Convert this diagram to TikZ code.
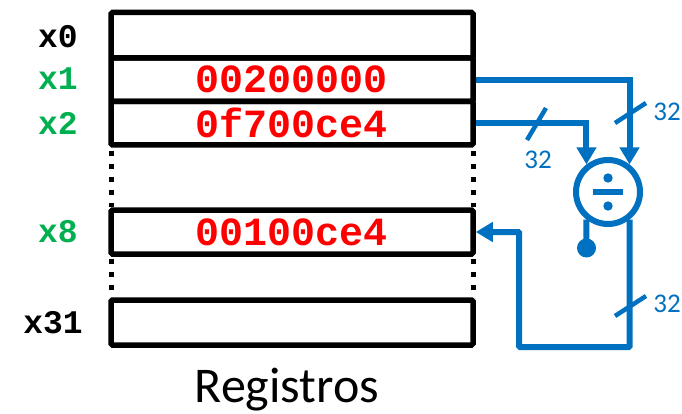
\documentclass[tikz,border=0pt]{standalone}
\usepackage{fontspec}
\setmainfont{Carlito}
\newfontfamily\regmono{Liberation Mono}
\usetikzlibrary{arrows.meta,shapes.geometric}
\definecolor{busblue}{HTML}{0070C0}
\definecolor{regred}{HTML}{FF0000}
\definecolor{reggreen}{HTML}{00B050}
\begin{document}
\begin{tikzpicture}[x=1pt,y=-1pt,
  regbox/.style={draw,line width=5.5pt,rounded corners=1.5pt,minimum width=362pt,inner sep=0pt,anchor=center},
  regval/.style={text=regred,font=\regmono\bfseries\fontsize{40}{40}\selectfont},
  reglab/.style={font=\regmono\bfseries\fontsize{33}{33}\selectfont,anchor=east,inner sep=0pt},
  gap/.style={line width=5pt,dash pattern=on 5pt off 8pt},
  bus/.style={draw=busblue,line width=6pt},
  tip/.style={-{Triangle[width=19pt,length=17pt]}},
  tick/.style={draw=busblue,line width=4.5pt},
  width/.style={text=busblue,font=\fontsize{27}{27}\selectfont,inner sep=0pt},
  dotc/.style={circle,fill=busblue,minimum size=19pt,inner sep=0pt}]
\useasboundingbox (0,0) rectangle (682,414);

% register file
\node[regbox,minimum height=45.5pt] (r0) at (292,35.25) {};
\node[regbox,minimum height=43.5pt] (r1) at (292,79.75) {};
\node[regbox,minimum height=43.5pt] (r2) at (292,123.25) {};
\node[regbox,minimum height=44pt] (r8) at (292,232) {};
\node[regbox,minimum height=45pt] (r31) at (292,322.5) {};

\node[regval] (v1) at (r1.center) {00200000};
\node[regval] (v2) at (r2.center) {0f700ce4};
\node[regval] (v8) at (r8.center) {00100ce4};

\node[reglab] (l0) at (78,37) {x0};
\node[reglab,text=reggreen] (l1) at (78,79) {x1};
\node[reglab,text=reggreen] (l2) at (78,123) {x2};
\node[reglab,text=reggreen] (l8) at (78,232) {x8};
\node[reglab] (l31) at (83,323) {x31};

% elided registers
\draw[gap] (111,151) -- (111,207);
\draw[gap] (473,151) -- (473,207);
\draw[gap] (111,259) -- (111,298);
\draw[gap] (473,259) -- (473,298);

\node (title) at (287,390) {\fontsize{50}{50}\selectfont Registros};

% divider unit
\node[circle,draw=busblue,line width=6pt,minimum size=64pt,inner sep=0pt] (div) at (608,192) {};
\draw[busblue,line width=6pt] (593,192) -- (623,192);
\fill[busblue] (608,178) circle (4.7pt) (608,206) circle (4.7pt);

% operand buses
\draw[bus,tip] (r1.east) -| (div.52);
\draw[bus,tip] (r2.east) -| (div.128);

% remainder output stub
\node[dotc] (lo) at (586.5,248) {};
\draw[bus] (div.232) -- (lo.center);

% quotient back to x8
\coordinate (turn) at (519,347);
\draw[bus,tip,rounded corners=1pt] (div.308) |- (turn) |- (r8.east);

% bus width marks
\draw[tick] (615,123) -- (646,103);
\draw[tick] (527,140) -- (546,108);
\draw[tick] (615,316) -- (646,296);
\node[width] (w1) at (667,112) {32};
\node[width] (w2) at (538,160) {32};
\node[width] (w3) at (667,304) {32};
\end{tikzpicture}
\end{document}
